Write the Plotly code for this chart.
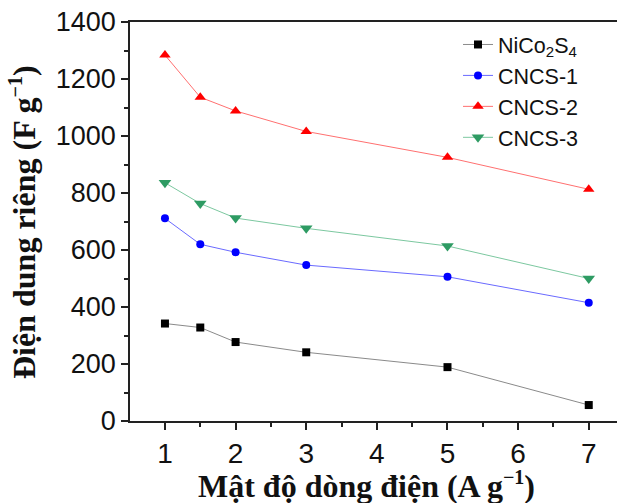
import plotly.graph_objects as go

# Current density (A g^-1)
current_density = [1, 1.5, 2, 3, 5, 7]

# Specific capacitance (F g^-1) for each electrode material
nico2s4 = [342, 328, 277, 241, 189, 56]
cncs_1 = [711, 620, 592, 547, 506, 415]
cncs_2 = [1284, 1136, 1088, 1016, 925, 813]
cncs_3 = [836, 763, 712, 676, 614, 500]

series_names = ["NiCo<sub>2</sub>S<sub>4</sub>", "CNCS-1", "CNCS-2", "CNCS-3"]
series_values = [nico2s4, cncs_1, cncs_2, cncs_3]
marker_colors = ["#000000", "#0000ff", "#ff0000", "#2e9b63"]
line_colors = ["#8a8a8a", "#6a6aff", "#ff7070", "#7cc8a0"]
symbols = ["square", "circle", "triangle-up", "triangle-down"]
marker_sizes = [8, 8, 10, 11]

fig = go.Figure()
for name, vals, mc, lc, sym, ms in zip(series_names, series_values, marker_colors,
                                        line_colors, symbols, marker_sizes):
    fig.add_trace(go.Scatter(
        x=current_density, y=vals, name=name, mode="lines+markers",
        line=dict(color=lc, width=1),
        marker=dict(symbol=sym, size=ms, color=mc, line=dict(width=0)),
    ))

W, H = 617, 503
L, R, T, B = 130, 0, 22, 82
plot_w = W - L - R
plot_h = H - T - B

fig.update_layout(
    width=W, height=H,
    margin=dict(l=L, r=R, t=T, b=B),
    paper_bgcolor="white", plot_bgcolor="white",
    showlegend=True,
    legend=dict(
        x=(458 - L) / plot_w, y=0.995, xanchor="left", yanchor="top",
        font=dict(family="Liberation Sans, Arial", size=21.5, color="#111"),
        bgcolor="rgba(0,0,0,0)", tracegroupgap=0,
    ),
    xaxis=dict(
        range=[0.505, 7.4],
        tickmode="array", tickvals=[1, 2, 3, 4, 5, 6, 7],
        ticks="outside", ticklen=7, tickwidth=1.5, tickcolor="#222",
        minor=dict(tickvals=[1.5, 2.5, 3.5, 4.5, 5.5, 6.5], ticks="outside",
                   ticklen=4, tickwidth=1.5, tickcolor="#222"),
        showline=True, linecolor="#222", linewidth=1.5, mirror=True,
        showgrid=False, zeroline=False,
        tickfont=dict(family="Liberation Sans, Arial", size=28, color="#111"),
    ),
    yaxis=dict(
        range=[0, 1400],
        tickmode="array", tickvals=[0, 200, 400, 600, 800, 1000, 1200, 1400],
        ticks="outside", ticklen=7, tickwidth=1.5, tickcolor="#222",
        minor=dict(tickvals=[100, 300, 500, 700, 900, 1100, 1300], ticks="outside",
                   ticklen=4, tickwidth=1.5, tickcolor="#222"),
        showline=True, linecolor="#222", linewidth=1.5, mirror=False,
        showgrid=False, zeroline=False,
        tickfont=dict(family="Liberation Sans, Arial", size=27, color="#111"),
    ),
)

title_font = dict(family="Liberation Serif, Times New Roman", size=32, color="#111")
sup = "<sup><span style='font-size:20px'>−1</span></sup>"
fig.add_annotation(
    text=f"<b>Mật độ dòng điện (A g{sup})</b>",
    xref="paper", yref="paper",
    x=(366 - L) / plot_w, y=-(485 - (H - B)) / plot_h,
    xanchor="center", yanchor="middle", showarrow=False, font=title_font,
)
fig.add_annotation(
    text=f"<b>Điện dung riêng (F g{sup})</b>",
    xref="paper", yref="paper", textangle=-90,
    x=-(L - 23) / plot_w, y=(H - B - 222) / plot_h,
    xanchor="center", yanchor="middle", showarrow=False, font=title_font,
)

fig.write_html("out.html")
